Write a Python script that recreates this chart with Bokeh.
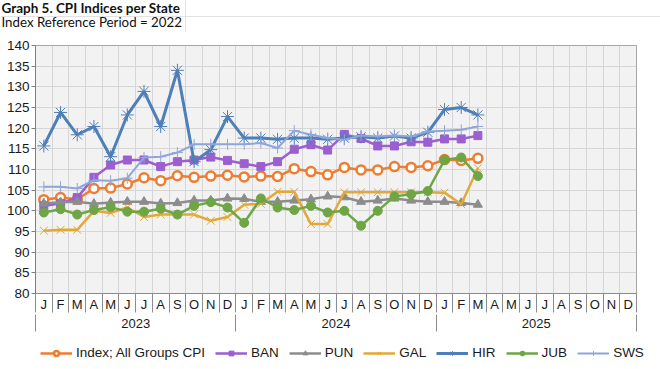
from bokeh.plotting import figure
from bokeh.layouts import column
from bokeh.models import (Range1d, FixedTicker, LinearAxis, Legend, LegendItem, Label, Span)
from bokeh.embed import file_html
from bokeh.resources import INLINE

# ---------------- data ----------------
month_letters = ["J", "F", "M", "A", "M", "J", "J", "A", "S", "O", "N", "D"]
years = ["2023", "2024", "2025"]

index_all = [102.7, 103.2, 102.8, 105.4, 105.5, 106.5, 108.0, 107.3, 108.5, 108.1, 108.4, 108.6,
             108.2, 108.4, 108.3, 110.2, 109.5, 108.7, 110.5, 109.9, 109.9, 110.7, 110.5, 110.9,
             112.4, 112.2, 112.7]
ban = [101.2, 101.8, 103.2, 108.1, 111.1, 112.3, 112.3, 110.7, 111.9, 112.3, 113.0, 112.2,
       111.4, 110.7, 111.9, 114.9, 116.0, 114.7, 118.5, 117.5, 115.7, 115.7, 116.7, 116.6,
       117.4, 117.4, 118.2]
pun = [101.8, 102.1, 102.2, 101.7, 102.0, 102.2, 102.2, 101.8, 101.9, 102.5, 102.5, 103.0,
       102.9, 102.2, 102.2, 102.5, 102.8, 103.5, 103.3, 102.2, 102.5, 103.0, 102.5, 102.2,
       102.2, 101.9, 101.5]
gal = [95.2, 95.4, 95.4, 100.0, 99.5, 100.8, 98.5, 99.1, 99.1, 99.1, 97.6, 98.5,
       101.5, 101.7, 104.6, 104.6, 96.8, 96.8, 104.5, 104.5, 104.5, 104.5, 104.5, 104.5,
       104.4, 101.6, 110.3]
hir = [115.7, 123.8, 118.4, 120.4, 113.1, 123.2, 128.9, 120.4, 134.0, 111.9, 114.8, 122.8,
       117.6, 117.6, 117.3, 117.6, 117.6, 117.3, 117.6, 117.9, 117.6, 118.1, 117.6, 119.0,
       124.5, 125.0, 123.2]
jub = [99.6, 100.4, 99.1, 100.2, 100.9, 99.8, 99.8, 100.5, 99.1, 101.2, 102.1, 100.8,
       97.1, 103.0, 100.8, 100.2, 101.2, 99.6, 100.0, 96.4, 100.0, 103.5, 104.0, 104.8,
       112.3, 112.9, 108.4]
sws = [105.8, 105.8, 105.4, 107.4, 107.3, 107.9, 112.9, 113.1, 114.1, 116.1, 116.1, 116.1,
       116.1, 116.4, 115.2, 119.4, 118.4, 117.6, 117.2, 118.2, 118.0, 118.2, 118.0, 119.2,
       119.4, 119.6, 120.4]

series_names = ["Index; All Groups CPI", "BAN", "PUN", "GAL", "HIR", "JUB", "SWS"]
series_values = [index_all, ban, pun, gal, hir, jub, sws]

title_text = "Graph 5. CPI Indices per State"
subtitle_text = "Index Reference Period = 2022"

n_months = len(month_letters) * len(years)
FONT = "Liberation Sans"
TXT = "#1a1a1a"
W = 660

# ---------------- header ----------------
HH = 32
header = figure(width=W, height=HH, output_backend="svg", toolbar_location=None,
                x_range=Range1d(0, W), y_range=Range1d(0, HH),
                x_axis_location=None, y_axis_location=None, min_border=0)
header.outline_line_color = None
header.background_fill_color = "white"
header.border_fill_color = "white"
header.xgrid.visible = False
header.ygrid.visible = False
header.add_layout(Span(location=HH - 16, dimension="width", line_color="#e2e2e2", line_width=1))
header.add_layout(Span(location=185, dimension="height", line_color="#e2e2e2", line_width=1))
header.add_layout(Label(x=1, y=HH - 7, x_units="screen", y_units="screen", text=title_text,
                        text_font="Lato", text_font_style="bold", text_font_size="13.5px",
                        text_baseline="middle", text_color="#111111"))
header.add_layout(Label(x=1, y=HH - 21, x_units="screen", y_units="screen", text=subtitle_text,
                        text_font="Lato", text_font_size="13.3px",
                        text_baseline="middle", text_color="#111111"))

# ---------------- main chart ----------------
MH = 335 - HH
p = figure(width=W, height=MH, output_backend="svg", toolbar_location=None,
           x_range=Range1d(-0.5, n_months - 0.5), y_range=Range1d(80, 140),
           x_axis_location=None,
           min_border_left=35, min_border_right=24, min_border_top=45 - HH,
           min_border_bottom=MH - (293 - HH))
p.background_fill_color = "#f2f2f2"
p.border_fill_color = "white"
p.outline_line_color = "#a6a6a6"
p.outline_line_width = 1

boundaries = [i - 0.5 for i in range(n_months + 1)]
p.xgrid.ticker = FixedTicker(ticks=boundaries)
p.ygrid.ticker = FixedTicker(ticks=list(range(80, 141, 5)))
for g in (p.xgrid, p.ygrid):
    g.grid_line_color = "#d6d6d6"
    g.grid_line_width = 1

yax = p.yaxis[0]
yax.ticker = FixedTicker(ticks=list(range(80, 141, 5)))
yax.major_label_text_font = FONT
yax.major_label_text_font_size = "13.5px"
yax.major_label_text_color = TXT
yax.axis_line_color = "#7f7f7f"
yax.major_tick_line_color = "#7f7f7f"
yax.major_tick_out = 4
yax.major_tick_in = 0
yax.minor_tick_line_color = None
yax.major_label_standoff = 2

centers = list(range(n_months))
month_axis = LinearAxis(
    ticker=FixedTicker(ticks=centers, minor_ticks=boundaries),
    major_label_overrides={i: month_letters[i % 12] for i in centers},
    major_tick_out=0, major_tick_in=0,
    minor_tick_out=19, minor_tick_in=0,
    minor_tick_line_color="#8c8c8c",
    axis_line_color="#8c8c8c",
    major_label_standoff=-16,
    major_label_text_font=FONT,
    major_label_text_font_size="13px",
    major_label_text_color=TXT,
)
p.add_layout(month_axis, "below")

year_centers = [12 * k + 5.5 for k in range(len(years))]
year_bounds = [12 * k - 0.5 for k in range(len(years) + 1)]
year_axis = LinearAxis(
    ticker=FixedTicker(ticks=year_centers, minor_ticks=year_bounds),
    major_label_overrides={c: y for c, y in zip(year_centers, years)},
    major_tick_out=0, major_tick_in=0,
    minor_tick_out=17, minor_tick_in=0,
    minor_tick_line_color="#8c8c8c",
    axis_line_color=None,
    major_label_standoff=-13,
    major_label_text_font=FONT,
    major_label_text_font_size="13px",
    major_label_text_color=TXT,
)
p.add_layout(year_axis, "below")

styles = [
    dict(color="#ed7d31", marker="circle", size=9, fill="white", lw=2.5, mlw=2.5),
    dict(color="#9b5fd0", marker="square", size=8, fill="#9b5fd0", lw=2.5, mlw=1),
    dict(color="#8c8c8c", marker="triangle", size=9, fill="#8c8c8c", lw=2.5, mlw=1),
    dict(color="#e2a93a", marker="x", size=11, fill=None, lw=2.5, mlw=1),
    dict(color="#4f7fb8", marker="asterisk", size=13, fill=None, lw=3, mlw=1),
    dict(color="#6ea545", marker="circle", size=9, fill="#6ea545", lw=2.5, mlw=1),
    dict(color="#8fa6da", marker="cross", size=11, fill=None, lw=2, mlw=1),
]

for vals, st in zip(series_values, styles):
    xs = list(range(len(vals)))
    p.line(xs, vals, line_color=st["color"], line_width=st["lw"])
    p.scatter(xs, vals, marker=st["marker"], size=st["size"],
              line_color=st["color"], line_width=st["mlw"], fill_color=st["fill"])

# ---------------- legend strip ----------------
LH = 369 - 335
leg_fig = figure(width=W, height=LH, output_backend="svg", toolbar_location=None,
                 x_range=Range1d(0, 1), y_range=Range1d(0, 1),
                 x_axis_location=None, y_axis_location=None, min_border=0)
leg_fig.outline_line_color = None
leg_fig.background_fill_color = "white"
leg_fig.border_fill_color = "white"
leg_fig.xgrid.visible = False
leg_fig.ygrid.visible = False

items = []
for name, st in zip(series_names, styles):
    # a single point kept outside the visible range: only its legend sample shows
    lr = leg_fig.line([-5, -4], [-5, -5], line_color=st["color"], line_width=st["lw"])
    sr = leg_fig.scatter([-5], [-5], marker=st["marker"], size=st["size"] - 2,
                         line_color=st["color"], line_width=st["mlw"], fill_color=st["fill"])
    items.append(LegendItem(label=name, renderers=[lr, sr]))

legend = Legend(items=items, orientation="horizontal", location=(40, 9),
                glyph_width=32, glyph_height=12, label_standoff=4, spacing=10,
                padding=2, margin=0, border_line_color=None, background_fill_alpha=0,
                label_text_font=FONT, label_text_font_size="13.5px", label_text_color=TXT)
leg_fig.add_layout(legend, "center")

figs = [header, p, leg_fig]
if "frame_align" in p.properties():
    for f in figs:
        f.frame_align = False
    root = column(*figs, spacing=0)
else:
    root = figs

open("out.html", "w").write(file_html(root, INLINE))
